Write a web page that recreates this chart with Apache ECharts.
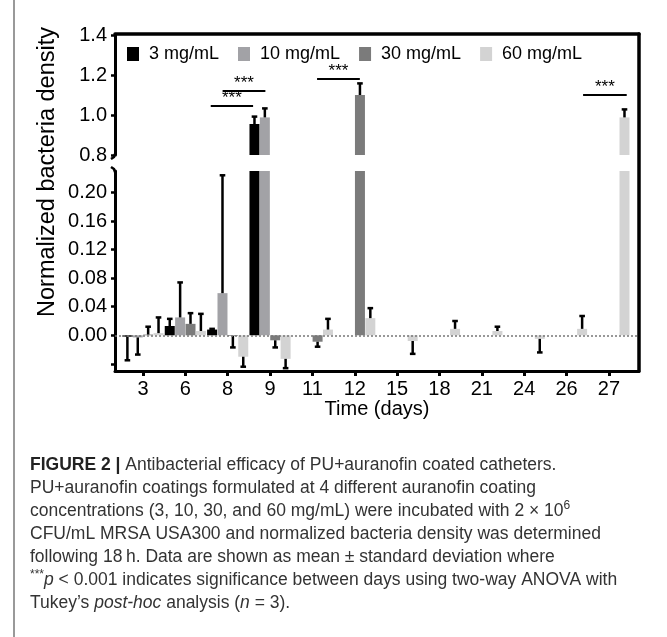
<!DOCTYPE html>
<html><head><meta charset="utf-8">
<script src="https://cdn.jsdelivr.net/npm/echarts@6/dist/echarts.min.js"></script>
<style>html,body{margin:0;padding:0;background:#fff}#c{width:667px;height:637px}</style>
</head><body><div id="c"></div>
<script>
// ---- data ----
const days = ['3','6','8','9','11','12','15','18','21','24','26','27'];
const seriesNames = ['3 mg/mL','10 mg/mL','30 mg/mL','60 mg/mL'];
const mean3  = [-0.002, 0.013, 0.008, 0.955, 0, 0, 0, 0, 0, 0, 0, 0];
const sd3    = [0.033, 0.010, 0.001, 0.037, 0, 0, 0, 0, 0, 0, 0, 0];
const mean10 = [-0.003, 0.025, 0.059, 0.988, 0, 0, 0, 0, 0, 0, 0, 0];
const sd10   = [0.024, 0.049, 0.165, 0.045, 0, 0, 0, 0, 0, 0, 0, 0];
const mean30 = [0.001, 0.016, -0.001, -0.007, -0.009, 1.100, 0, 0, 0, 0, 0, 0];
const sd30   = [0.011, 0.015, 0.016, 0.010, 0.007, 0.058, 0, 0, 0, 0, 0, 0];
const mean60 = [0.003, 0.006, -0.030, -0.033, 0.008, 0.024, -0.008, 0.009, 0.006, -0.005, 0.009, 0.988];
const sd60   = [0.022, 0.024, 0.014, 0.013, 0.015, 0.014, 0.018, 0.011, 0.006, 0.019, 0.018, 0.040];
// significance bars: [from (category index), to (category index), height]
const sigLines = [[1.60, 2.60, 1.045], [1.88, 2.89, 1.12], [4.11, 5.12, 1.18], [10.39, 11.42, 1.10]];
const sigLabel = '***';
const topTicks = [0.8, 1.0, 1.2, 1.4];
const lowTicks = [-0.04, 0.00, 0.04, 0.08, 0.12, 0.16, 0.20];
const lowLabels = [0.00, 0.04, 0.08, 0.12, 0.16, 0.20];

// ---- style ----
const FONT = "'Liberation Sans', Arial, Helvetica, sans-serif";
const colors = ['#000000', '#a2a2a6', '#7b7b7b', '#d3d3d3'];
const XMIN = -0.66, XMAX = 11.71;
const BAR_STEP = 0.245, BAR_W = 0.236;
const means = [mean3, mean10, mean30, mean60];
const sds = [sd3, sd10, sd30, sd60];

const chart = echarts.init(document.getElementById('c'));

function barRender(k) {
  return function (params, api) {
    const i = api.value(0), v = api.value(1), e = api.value(2);
    const cs = params.coordSys;
    const unit = api.size([1, 0])[0];
    const base = api.coord([i, 0]);
    const cx = base[0] + (k - 1.5) * unit * BAR_STEP;
    const bw = unit * BAR_W;
    const y0 = base[1], y1 = api.coord([i, v])[1];
    const children = [];
    const rect = echarts.graphic.clipRectByRect(
      { x: cx - bw / 2, y: Math.min(y0, y1), width: bw, height: Math.abs(y1 - y0) },
      { x: cs.x, y: cs.y, width: cs.width, height: cs.height });
    if (rect && rect.height > 0.2) {
      children.push({ type: 'rect', shape: rect, style: { fill: api.visual('color') } });
    }
    if (e > 0) {
      const dir = v < 0 ? -1 : 1;
      const y2 = api.coord([i, v + dir * e])[1];
      const top = cs.y, bot = cs.y + cs.height;
      const a = Math.max(Math.min(y1, y2), top), b = Math.min(Math.max(y1, y2), bot);
      if (b > a) {
        children.push({ type: 'line', shape: { x1: cx, y1: a, x2: cx, y2: b }, style: { stroke: '#000', lineWidth: 2.5 } });
        if (y2 >= top && y2 <= bot) {
          children.push({ type: 'line', shape: { x1: cx - 2.8, y1: y2, x2: cx + 2.8, y2: y2 }, style: { stroke: '#000', lineWidth: 2.5 } });
        }
      }
    }
    return { type: 'group', children: children };
  };
}

const series = [];
[0, 1].forEach(function (g) {
  seriesNames.forEach(function (name, k) {
    series.push({
      type: 'custom', name: name, xAxisIndex: g, yAxisIndex: g,
      itemStyle: { color: colors[k] },
      dimensions: ['x', 'y', 'err'], encode: { x: 0, y: 1 },
      renderItem: barRender(k),
      data: days.map(function (d, i) { return [i, means[k][i], sds[k][i]]; }),
      animation: false, silent: true
    });
  });
});
// zero reference line
series.push({
  type: 'line', xAxisIndex: 1, yAxisIndex: 1, data: [], silent: true, animation: false,
  markLine: { silent: true, symbol: 'none', label: { show: false }, animation: false,
    lineStyle: { color: '#777', width: 1.5, type: [2, 2] }, data: [{ yAxis: 0 }] }
});
// significance annotations
series.push({
  type: 'custom', xAxisIndex: 0, yAxisIndex: 0, silent: true, animation: false,
  dimensions: ['x0', 'x1', 'y'], encode: { x: [0, 1], y: 2 },
  data: sigLines,
  renderItem: function (params, api) {
    const p0 = api.coord([api.value(0), api.value(2)]);
    const p1 = api.coord([api.value(1), api.value(2)]);
    return { type: 'group', children: [
      { type: 'line', shape: { x1: p0[0], y1: p0[1], x2: p1[0], y2: p1[1] }, style: { stroke: '#000', lineWidth: 2 } },
      { type: 'text', x: (p0[0] + p1[0]) / 2, y: p0[1] + 1,
        style: { text: sigLabel, align: 'center', verticalAlign: 'bottom', fontSize: 17, fontFamily: FONT, fill: '#000' } }
    ] };
  }
});

const axisLineStyle = { color: '#000', width: 3 };
const option = {
  backgroundColor: '#fff',
  animation: false,
  textStyle: { fontFamily: FONT },
  grid: [
    { left: 115, right: 28, top: 35, height: 120 },
    { left: 115, right: 28, top: 171, height: 200 },
    { left: 115, right: 28, top: 34, height: 337 }
  ],
  legend: {
    data: seriesNames, left: 127, top: 45, icon: 'rect', itemWidth: 12, itemHeight: 14, itemGap: 19,
    selectedMode: false, padding: 0,
    textStyle: { fontSize: 18, color: '#000', fontFamily: FONT, padding: [0, 0, 0, 5] }
  },
  xAxis: [
    { type: 'value', gridIndex: 0, min: XMIN, max: XMAX, show: false },
    { type: 'value', gridIndex: 1, min: XMIN, max: XMAX,
      axisLine: { show: true, onZero: false, lineStyle: axisLineStyle },
      axisTick: { show: true, length: 5, lineStyle: { width: 3, color: '#000' }, customValues: days.map(function (d, i) { return i; }) },
      axisLabel: { fontSize: 20, color: '#000', margin: 8, customValues: days.map(function (d, i) { return i; }),
        formatter: function (v) { return days[Math.round(v)]; } },
      splitLine: { show: false },
      name: 'Time (days)', nameLocation: 'middle', nameGap: 28,
      nameTextStyle: { fontSize: 20, color: '#000', fontFamily: FONT } },
    { type: 'value', gridIndex: 2, min: XMIN, max: XMAX, position: 'top',
      axisLine: { show: true, onZero: false, lineStyle: { color: '#000', width: 3.5 } },
      axisTick: { show: false }, axisLabel: { show: false }, splitLine: { show: false } }
  ],
  yAxis: [
    { type: 'value', gridIndex: 0, min: 0.8, max: 1.4, interval: 0.2,
      axisLine: { show: true, onZero: false, lineStyle: axisLineStyle },
      axisTick: { show: true, length: 4, lineStyle: { width: 2.5, color: '#000' }, customValues: topTicks },
      axisLabel: { fontSize: 20, color: '#000', margin: 8, customValues: topTicks,
        formatter: function (v) { return v.toFixed(1); } },
      splitLine: { show: false } },
    { type: 'value', gridIndex: 1, min: -0.05, max: 0.23,
      axisLine: { show: true, onZero: false, lineStyle: axisLineStyle },
      axisTick: { show: true, length: 4, lineStyle: { width: 2.5, color: '#000' }, customValues: lowTicks },
      axisLabel: { fontSize: 20, color: '#000', margin: 8, customValues: lowLabels,
        formatter: function (v) { return v.toFixed(2); } },
      splitLine: { show: false } },
    { type: 'value', gridIndex: 2, min: 0, max: 1, position: 'right',
      axisLine: { show: true, onZero: false, lineStyle: { color: '#000', width: 3.5 } },
      axisTick: { show: false }, axisLabel: { show: false }, splitLine: { show: false } }
  ],
  graphic: [
    { type: 'line', shape: { x1: 14, y1: 0, x2: 14, y2: 637 }, style: { stroke: '#777', lineWidth: 1.5 } },
    // axis break marks
    { type: 'polyline', shape: { points: [[115, 154], [114, 157], [111, 159]] }, style: { stroke: '#000', lineWidth: 2.5, fill: null } },
    { type: 'polyline', shape: { points: [[115, 172], [114, 169], [111, 167]] }, style: { stroke: '#000', lineWidth: 2.5, fill: null } },
    { type: 'text', x: 48, y: 172, rotation: Math.PI / 2,
      style: { text: 'Normalized bacteria density', align: 'center', verticalAlign: 'middle',
        fontSize: 23.5, fontFamily: FONT, fill: '#000' } },
    { type: 'text', x: 30, y: 454,
      style: {
        text: '{b|FIGURE 2 |} Antibacterial efficacy of PU+auranofin coated catheters.\n' +
          'PU+auranofin coatings formulated at 4 different auranofin coating\n' +
          'concentrations (3, 10, 30, and 60 mg/mL) were incubated with 2 \u00d7 10{sup|6}\n' +
          'CFU/mL MRSA USA300 and normalized bacteria density was determined\n' +
          'following 18\u2009h. Data are shown as mean \u00b1 standard deviation where\n' +
          '{sup|***}{i|p} < 0.001 indicates significance between days using two-way ANOVA with\n' +
          'Tukey\u2019s {i|post-hoc} analysis ({i|n} = 3).',
        fontSize: 17.5, lineHeight: 23, fontFamily: FONT, fill: '#333',
        rich: {
          b: { fontWeight: 'bold', fontSize: 17.5, fontFamily: FONT, fill: '#222', lineHeight: 23 },
          i: { fontStyle: 'italic', fontSize: 17.5, fontFamily: FONT, fill: '#333', lineHeight: 23 },
          sup: { fontSize: 12, fontFamily: FONT, fill: '#333', verticalAlign: 'top', lineHeight: 23, padding: [0, 0, 6, 0] }
        }
      } }
  ],
  series: series
};
chart.setOption(option);
</script>
</body></html>
